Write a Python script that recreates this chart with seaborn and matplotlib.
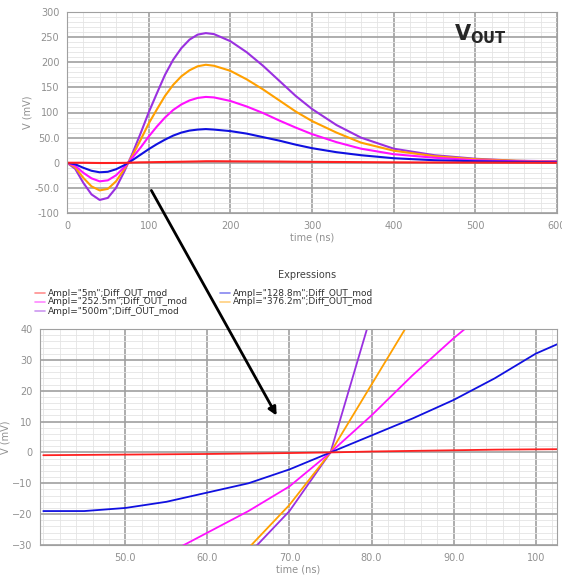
import matplotlib
matplotlib.use("Agg")
import matplotlib.pyplot as plt
import seaborn as sns
import pandas as pd
import numpy as np
from matplotlib.ticker import MultipleLocator

sns.set_style("white")
plt.rcParams['font.family'] = ['DejaVu Sans']

labels = ['Ampl="5m";Diff_OUT_mod', 'Ampl="128.8m";Diff_OUT_mod', 'Ampl="252.5m";Diff_OUT_mod',
          'Ampl="376.2m";Diff_OUT_mod', 'Ampl="500m";Diff_OUT_mod']
colors = ['#ff2020', '#1010e0', '#ff10ff', '#ffa000', '#9a30e0']

t_top = [0, 10, 20, 30, 40, 50, 60, 70, 75, 80, 90, 100, 110, 120, 130, 140, 150, 160, 170, 180,
         200, 220, 240, 260, 280, 300, 330, 360, 400, 450, 500, 550, 600]
v_red = [0, 0, 0, -0.3, -0.5, -0.5, -0.4, -0.2, 0, 0.3, 0.8, 1, 1.3, 1.5, 1.8, 2, 2.3, 2.6, 3, 3,
         2.8, 2.6, 2.5, 2.3, 2, 1.8, 1.5, 1.2, 0.8, 0.5, 0.3, 0.1, 0]
v_blue = [0, -3, -10, -16, -19, -18, -13, -5, 0, 5, 16, 27, 37, 46, 54, 60, 64, 66, 67, 66,
          63, 58, 51, 44, 36, 29, 21, 15, 9, 5, 3, 2, 1]
v_mag = [0, -6, -20, -31, -37, -35, -25, -9, 0, 10, 30, 52, 72, 90, 105, 116, 124, 129, 131, 130,
         123, 112, 99, 84, 70, 57, 41, 28, 17, 10, 5, 3, 2]
v_org = [0, -9, -30, -47, -55, -52, -37, -13, 0, 14, 45, 78, 106, 133, 155, 172, 184, 192, 195, 193,
         183, 166, 146, 124, 102, 83, 60, 40, 24, 13, 7, 4, 2]
v_pur = [0, -12, -40, -63, -74, -70, -50, -18, 0, 18, 58, 100, 138, 175, 205, 228, 245, 255, 258, 256,
         242, 220, 193, 163, 133, 107, 75, 50, 28, 15, 8, 4, 3]

t_zoom = [40, 45, 50, 55, 60, 65, 70, 75, 80, 85, 90, 95, 100, 106]
z_red = [-0.9, -0.8, -0.7, -0.6, -0.5, -0.35, -0.2, 0, 0.3, 0.5, 0.7, 0.9, 1.0, 1.1]
z_blue = [-19, -19, -18, -16, -13, -10, -5.5, 0, 5.5, 11, 17, 24, 32, 39]
z_mag = [np.nan, np.nan, np.nan, -33, -26, -19, -11, 0, 12, 25, 37, 48, np.nan, np.nan]
z_org = [np.nan, np.nan, np.nan, np.nan, np.nan, -31, -17, 0, 22, 44, np.nan, np.nan, np.nan, np.nan]
z_pur = [np.nan, np.nan, np.nan, np.nan, np.nan, -33, -19, 0, 45, np.nan, np.nan, np.nan, np.nan, np.nan]

top_vals = [v_red, v_blue, v_mag, v_org, v_pur]
zoom_vals = [z_red, z_blue, z_mag, z_org, z_pur]

fig = plt.figure(figsize=(5.62, 5.77), dpi=100)
ax1 = fig.add_axes([67/562, 1-213/577, 490/562, 201/577])
ax2 = fig.add_axes([40/562, 1-545/577, 517/562, 216/577])

def style(ax):
    ax.grid(True, which='major', color='#a0a0a0', lw=1.2)
    ax.grid(True, which='minor', color='#e4e4e4', lw=0.6)
    ax.set_axisbelow(True)
    for s in ax.spines.values():
        s.set_color('#a0a0a0')
    ax.tick_params(which='both', colors='#909090', labelsize=7, length=2, labelcolor='#909090')

for i in [4, 3, 2, 1, 0]:
    df = pd.DataFrame({'t': t_top, 'v': top_vals[i]})
    sns.lineplot(data=df, x='t', y='v', ax=ax1, color=colors[i], lw=1.5)
for i in [4, 3, 2, 1, 0]:
    df = pd.DataFrame({'t': t_zoom, 'v': zoom_vals[i]})
    sns.lineplot(data=df, x='t', y='v', ax=ax2, color=colors[i], lw=1.3)

ax1.set_xlim(0, 600); ax1.set_ylim(-100, 300)
ax1.xaxis.set_major_locator(MultipleLocator(100)); ax1.xaxis.set_minor_locator(MultipleLocator(20))
ax1.yaxis.set_minor_locator(MultipleLocator(10))
ax1.set_yticks([-100, -50, 0, 50, 100, 150, 200, 250, 300])
ax1.set_yticklabels(['-100', '-50.0', '0', '50.0', '100', '150', '200', '250', '300'])
style(ax1)
ax1.set_xlabel('time (ns)', fontsize=7, color='#909090', labelpad=1)
ax1.set_ylabel('V (mV)', fontsize=7, color='#909090', labelpad=1)
ax1.text(0.79, 0.86, r'$\mathbf{V_{OUT}}$', transform=ax1.transAxes, fontsize=15)

ax2.set_xlim(39.6, 102.6); ax2.set_ylim(-30, 40)
ax2.set_xticks([50, 60, 70, 80, 90, 100]); ax2.set_xticklabels(['50.0', '60.0', '70.0', '80.0', '90.0', '100'])
ax2.xaxis.set_minor_locator(MultipleLocator(2)); ax2.yaxis.set_minor_locator(MultipleLocator(2))
ax2.yaxis.set_major_locator(MultipleLocator(10))
style(ax2)
ax2.set_xlabel('time (ns)', fontsize=7, color='#909090', labelpad=1)
ax2.set_ylabel('V (mV)', fontsize=7, color='#909090', labelpad=1)

fig.text(307/562, 1-275/577, 'Expressions', fontsize=7, color='#404040', ha='center', va='center')
pos = [(35, 293), (220, 293), (35, 302), (220, 302), (35, 311)]
for i, (x, y) in enumerate(pos):
    fig.lines.append(plt.Line2D([x/562, (x+10)/562], [1-y/577, 1-y/577], transform=fig.transFigure,
                                color=colors[i], alpha=0.5, lw=1.2))
    fig.text((x+13)/562, 1-y/577, labels[i], fontsize=6.5, color='#303030', va='center')

fig.patches.append(matplotlib.patches.FancyArrowPatch((150/562, 1-188/577), (278/562, 1-418/577),
                   transform=fig.transFigure, arrowstyle='-|>', mutation_scale=12, color='black', lw=2))
fig.savefig('out.png', dpi=100)
